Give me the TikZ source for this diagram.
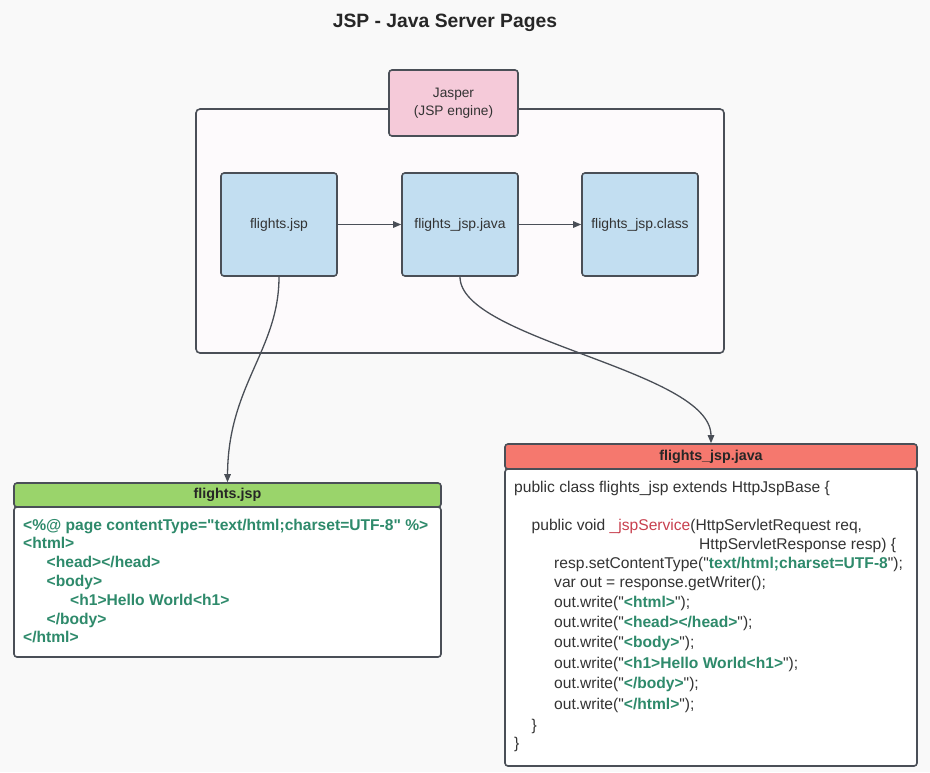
\documentclass[tikz,border=0pt]{standalone}
\usepackage{fontspec}
\setmainfont{Liberation Sans}[Ligatures=TeXOff]
\usetikzlibrary{arrows.meta}
\definecolor{bgc}{HTML}{F9F9F9}
\definecolor{edgec}{HTML}{4A4F57}
\definecolor{bluef}{HTML}{C2DEF1}
\definecolor{pinkf}{HTML}{F5CAD9}
\definecolor{greenh}{HTML}{9AD46B}
\definecolor{redh}{HTML}{F5786E}
\definecolor{codeg}{HTML}{2E8A6B}
\definecolor{codet}{HTML}{333333}
\definecolor{svc}{HTML}{C8404F}
\definecolor{innerf}{HTML}{FDFAFC}
\newcommand\qq{\char"22\relax}
\begin{document}
\begin{tikzpicture}[x=1pt,y=-1pt,
  stepbox/.style={draw=edgec,line width=1.6pt,fill=bluef,rounded corners=3pt,
    minimum width=116pt,minimum height=103pt,inner sep=0pt,text=codet,
    font=\fontsize{13.9}{16}\selectfont},
  hdrbox/.style={draw=edgec,line width=1.6pt,rounded corners=3pt,inner sep=0pt,
    text=black!85,font=\bfseries\fontsize{14.3}{16}\selectfont},
  bodybox/.style={draw=edgec,line width=1.6pt,fill=white,rounded corners=3pt,inner sep=0pt},
  gline/.style={anchor=base west,inner sep=0pt,text=codeg,font=\bfseries\fontsize{15.6}{18}\selectfont},
  rline/.style={anchor=base west,inner sep=0pt,text=codet,font=\fontsize{15.6}{18}\selectfont},
  conn/.style={draw=edgec,line width=1.3pt,-{Triangle[length=8pt,width=6.5pt]}}
]
\useasboundingbox (0,0) rectangle (930,772);
\fill[bgc] (0,0) rectangle (930,772);

% title
\node[font=\bfseries\fontsize{19.3}{23}\selectfont,text=black!85] (title) at (445,23) {JSP - Java Server Pages};

% container
\draw[edgec,line width=1.6pt,fill=innerf,rounded corners=4pt] (196,109) rectangle (724,353);
\node[draw=edgec,line width=1.6pt,fill=pinkf,rounded corners=3pt,minimum width=129pt,minimum height=66pt,
  inner sep=0pt,align=center,text=codet,font=\fontsize{13.7}{18}\selectfont] (jasper) at (453.5,103) {Jasper\\(JSP engine)};

% steps
\node[stepbox] (fjsp) at (279,224.5) {flights.jsp};
\node[stepbox] (fjava) at (460,224.5) {flights\_jsp.java};
\node[stepbox] (fclass) at (640,224.5) {flights\_jsp.class};
\draw[conn] (fjsp) -- (fjava);
\draw[conn] (fjava) -- (fclass);

% green box
\node[bodybox,minimum width=427pt,minimum height=150pt] (gbody) at (227.5,582) {};
\node[hdrbox,fill=greenh,minimum width=427pt,minimum height=24pt] (ghdr) at (227.5,495) {flights.jsp};
\node[gline] (j1) at (23,530.5) {<\%@ page contentType=\qq text/html;charset=UTF-8\qq{} \%>};
\node[gline] (j2) at (23,548.5) {<html>};
\node[gline] (j3) at (46.5,567.5) {<head></head>};
\node[gline] (j4) at (46.5,586.5) {<body>};
\node[gline] (j5) at (70,605.5) {<h1>Hello World<h1>};
\node[gline] (j6) at (46.5,624) {</body>};
\node[gline] (j7) at (23,642.5) {</html>};

% red box
\node[bodybox,minimum width=412pt,minimum height=297pt] (rbody) at (711,617.5) {};
\node[hdrbox,fill=redh,minimum width=412pt,minimum height=25pt] (rhdr) at (711,456.5) {flights\_jsp.java};
\node[rline] (k1) at (514,492) {public class flights\_jsp extends HttpJspBase \{};
\node[rline] (k2) at (531.5,530.5) {public void \textcolor{svc}{\_jspService}(HttpServletRequest req,};
\node[rline] (k3) at (699,549.5) {HttpServletResponse resp) \{};
\node[rline] (k4) at (554,568) {resp.setContentType(\qq\textcolor{codeg}{\textbf{text/html;charset=UTF-8}}\qq);};
\node[rline] (k5) at (554,587) {var out = response.getWriter();};
\node[rline] (k6) at (554,607) {out.write(\qq\textcolor{codeg}{\textbf{<html>}}\qq);};
\node[rline] (k7) at (554,627) {out.write(\qq\textcolor{codeg}{\textbf{<head></head>}}\qq);};
\node[rline] (k8) at (554,647) {out.write(\qq\textcolor{codeg}{\textbf{<body>}}\qq);};
\node[rline] (k9) at (554,668) {out.write(\qq\textcolor{codeg}{\textbf{<h1>Hello World<h1>}}\qq);};
\node[rline] (k10) at (554,688.5) {out.write(\qq\textcolor{codeg}{\textbf{</body>}}\qq);};
\node[rline] (k11) at (554,709.5) {out.write(\qq\textcolor{codeg}{\textbf{</html>}}\qq);};
\node[rline] (k12) at (531.5,730.5) {\}};
\node[rline] (k13) at (514,748.5) {\}};

% curved connectors
\draw[conn] (fjsp.south) .. controls (279,350) and (228,385) .. (ghdr.north);
\draw[conn] (fjava.south) .. controls (460,340) and (711,370) .. (rhdr.north);
\end{tikzpicture}
\end{document}
